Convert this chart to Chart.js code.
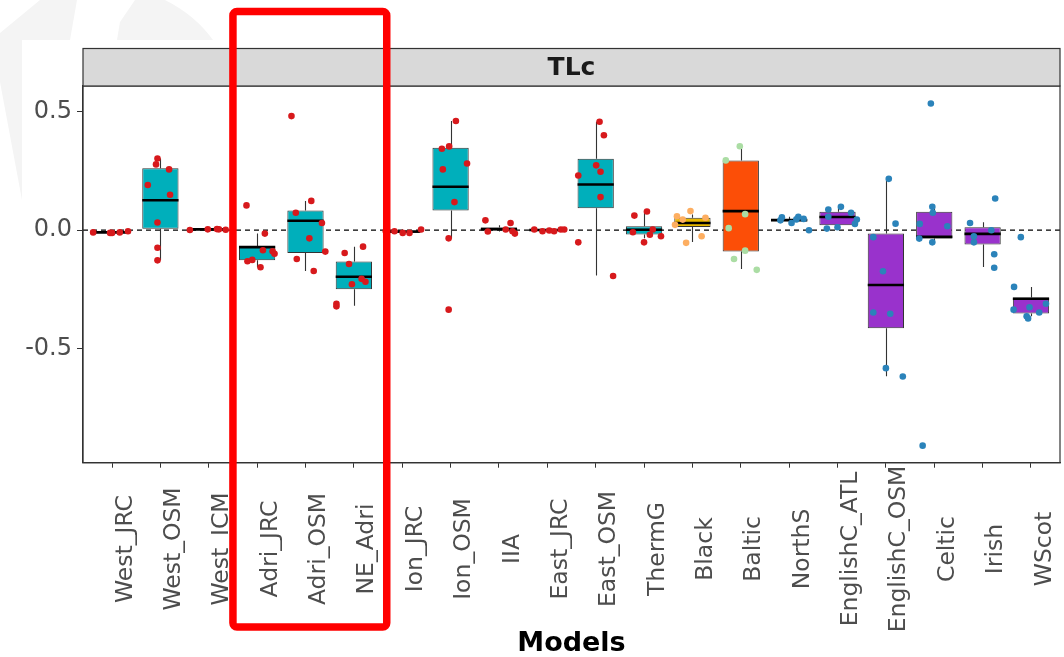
<!DOCTYPE html>
<html>
<head>
<meta charset="utf-8">
<script src="https://cdn.jsdelivr.net/npm/chart.js@4.4.1/dist/chart.umd.min.js"></script>
<style>
  html, body { margin: 0; padding: 0; background: #fff; }
  #wrap { width: 1064px; height: 657px; position: relative; }
</style>
</head>
<body>
<div id="wrap"><canvas id="chart"></canvas></div>
<script>
const categories = ["West_JRC", "West_OSM", "West_ICM", "Adri_JRC", "Adri_OSM", "NE_Adri", "Ion_JRC", "Ion_OSM",
  "IIA", "East_JRC", "East_OSM", "ThermG", "Black", "Baltic", "NorthS", "EnglishC_ATL", "EnglishC_OSM",
  "Celtic", "Irish", "WScot"];

// box stats
const boxLow = [-0.012, 0.005, 0.001, -0.128, -0.097, -0.25, -0.012, 0.082, -0.002, -0.004, 0.092, -0.019,
  0.013, -0.091, 0.037, 0.02, -0.414, -0.036, -0.061, -0.352];
const median = [-0.01, 0.126, 0.003, -0.072, 0.039, -0.197, -0.006, 0.183, 0.004, 0.0, 0.192, 0.001,
  0.03, 0.08, 0.042, 0.055, -0.232, -0.029, -0.016, -0.29];
const boxHigh = [-0.007, 0.261, 0.003, -0.071, 0.082, -0.133, -0.005, 0.347, 0.011, 0.002, 0.301, 0.016,
  0.052, 0.294, 0.047, 0.077, -0.015, 0.077, 0.012, -0.285];
const whiskerLow = [-0.012, -0.128, 0.0, -0.157, -0.173, -0.32, -0.012, -0.035, -0.006, -0.005, -0.192, -0.035,
  -0.05, -0.164, 0.03, 0.006, -0.617, -0.052, -0.156, -0.364];
const whiskerHigh = [-0.005, 0.302, 0.004, -0.015, 0.123, -0.07, 0.002, 0.46, 0.02, 0.002, 0.457, 0.075,
  0.066, 0.35, 0.056, 0.098, 0.216, 0.098, 0.033, -0.24];

// jittered observations per model
const pointValues = [
  [-0.01, -0.012, -0.012, -0.01, -0.005],
  [0.302, 0.277, 0.256, 0.19, 0.149, 0.032, -0.075, -0.128],
  [0.0, 0.003, 0.004, 0.003, 0.001],
  [0.104, -0.015, -0.085, -0.09, -0.1, -0.132, -0.126, -0.157],
  [0.481, 0.123, 0.073, 0.03, -0.035, -0.091, -0.122, -0.173],
  [-0.07, -0.097, -0.143, -0.206, -0.218, -0.229, -0.311, -0.322],
  [-0.005, -0.005, -0.012, -0.012, 0.002],
  [0.46, 0.343, 0.353, 0.281, 0.256, 0.118, -0.035, -0.336],
  [0.041, 0.03, -0.006, 0.002, -0.005, -0.015],
  [0.002, -0.005, -0.002, -0.005, 0.002, 0.002],
  [0.457, 0.4, 0.273, 0.246, 0.23, 0.139, -0.052, -0.194],
  [0.061, 0.078, -0.009, 0.002, -0.02, -0.026, -0.052],
  [0.08, 0.058, 0.044, 0.052, 0.022, -0.026, -0.054],
  [0.354, 0.294, 0.067, 0.008, -0.087, -0.122, -0.168],
  [0.054, 0.041, 0.03, 0.056, 0.047, 0.045, -0.001],
  [0.098, 0.087, 0.073, 0.056, 0.044, 0.026, 0.006, 0.012],
  [0.216, 0.027, -0.03, -0.174, -0.348, -0.353, -0.583, -0.618],
  [0.534, 0.098, 0.073, 0.026, 0.016, -0.036, -0.052, -0.91],
  [0.133, 0.03, -0.001, -0.026, -0.052, -0.102, -0.159],
  [-0.03, -0.24, -0.336, -0.326, -0.348, -0.311, -0.364, -0.373]
];
const pointJitter = [
  [-0.39, -0.04, 0, 0.16, 0.33],
  [-0.06, -0.09, 0.18, -0.26, 0.2, -0.06, -0.06, -0.06],
  [-0.39, -0.02, 0.17, 0.21, 0.35],
  [-0.22, 0.16, 0.12, 0.32, 0.36, -0.2, -0.1, 0.07],
  [-0.29, 0.12, -0.2, 0.34, 0.08, 0.41, -0.18, 0.17],
  [0.19, -0.19, -0.1, 0.16, 0.24, -0.04, -0.36, -0.36],
  [-0.34, -0.16, 0.01, 0.15, 0.39],
  [0.11, -0.18, -0.03, 0.34, -0.16, 0.08, -0.04, -0.04],
  [-0.28, 0.24, -0.23, 0.14, 0.28, 0.33],
  [-0.27, -0.1, 0.04, 0.14, 0.28, 0.35],
  [0.08, 0.17, 0.01, 0.1, -0.36, 0.1, -0.36, 0.36],
  [-0.2, 0.06, -0.23, 0.18, 0.12, 0.35, 0],
  [-0.04, -0.32, -0.2, 0.27, -0.36, 0.19, -0.13],
  [-0.02, -0.31, 0.09, -0.25, 0.09, -0.14, 0.33],
  [-0.15, -0.18, 0.05, 0.19, 0.3, 0.15, 0.41],
  [0.07, -0.19, 0.28, -0.19, 0.4, 0.36, -0.22, 0],
  [0.06, 0.2, -0.26, -0.06, -0.26, 0.09, 0, 0.35],
  [-0.07, -0.04, -0.03, -0.3, 0.27, -0.31, -0.04, -0.24],
  [0.26, -0.26, 0.18, -0.18, -0.18, 0.24, 0.24],
  [-0.21, -0.35, -0.36, -0.03, 0.17, 0.31, -0.09, -0.06]
];

const yTicks = [-0.5, 0, 0.5];

const TEAL = "#00AFBB", GOLD = "#E7B800", ORANGE = "#FC4E07", PURPLE = "#9932CC";
const RED = "#D7191C", LORANGE = "#FDAE61", LGREEN = "#ABDDA4", BLUE = "#2B83BA";
const boxColors = categories.map((_, i) => i < 12 ? TEAL : i === 12 ? GOLD : i === 13 ? ORANGE : PURPLE);
const dotColors = categories.map((_, i) => i < 12 ? RED : i === 12 ? LORANGE : i === 13 ? LGREEN : BLUE);

const points = [], pointCols = [];
pointValues.forEach((vals, i) => {
  vals.forEach((v, k) => {
    points.push({ x: i + pointJitter[i][k], y: v });
    pointCols.push(dotColors[i]);
  });
});

const BOX_DS = 1;

const decor = {
  id: "decor",
  beforeDraw(chart) {
    // faint watermark behind the figure
    const c = chart.ctx;
    c.save();
    c.fillStyle = "#f4f4f4";
    c.beginPath();
    c.moveTo(40, 0); c.lineTo(77, 0); c.lineTo(70, 40); c.lineTo(22, 40); c.lineTo(22, 200);
    c.lineTo(0, 82); c.lineTo(0, 33);
    c.closePath(); c.fill();
    c.beginPath();
    c.moveTo(135, 0); c.lineTo(165, 0); c.quadraticCurveTo(195, 15, 213, 40); c.lineTo(117, 40);
    c.lineTo(120, 22);
    c.closePath(); c.fill();
    c.restore();
  },
  beforeDatasetDraw(chart, args) {
    if (args.index !== BOX_DS) return;
    const c = chart.ctx, xs = chart.scales.x, ys = chart.scales.y;
    c.save();
    c.strokeStyle = "#333333";
    c.lineWidth = 1.1;
    c.beginPath();
    categories.forEach((_, i) => {
      const px = Math.round(xs.getPixelForValue(i)) + 0.5;
      c.moveTo(px, ys.getPixelForValue(boxHigh[i])); c.lineTo(px, ys.getPixelForValue(whiskerHigh[i]));
      c.moveTo(px, ys.getPixelForValue(boxLow[i])); c.lineTo(px, ys.getPixelForValue(whiskerLow[i]));
    });
    c.stroke();
    c.restore();
  },
  afterDatasetDraw(chart, args) {
    if (args.index !== BOX_DS) return;
    const c = chart.ctx, ys = chart.scales.y;
    c.save();
    c.strokeStyle = "#000";
    c.lineWidth = 2.6;
    c.beginPath();
    args.meta.data.forEach((bar, i) => {
      const py = ys.getPixelForValue(median[i]);
      c.moveTo(bar.x - bar.width / 2, py); c.lineTo(bar.x + bar.width / 2, py);
    });
    c.stroke();
    c.restore();
  },
  afterDraw(chart) {
    const c = chart.ctx, a = chart.chartArea, xs = chart.scales.x;
    c.save();
    // panel border
    c.strokeStyle = "#333333";
    c.lineWidth = 1.2;
    c.strokeRect(a.left, a.top, a.right - a.left, a.bottom - a.top);
    // facet strip
    c.fillStyle = "#D9D9D9";
    c.fillRect(a.left, 48.5, a.right - a.left, a.top - 48.5);
    c.strokeRect(a.left, 48.5, a.right - a.left, a.top - 48.5);
    c.fillStyle = "#1A1A1A";
    c.font = 'bold 25px "DejaVu Sans"';
    c.textAlign = "center";
    c.textBaseline = "middle";
    c.fillText("TLc", (a.left + a.right) / 2, 68);
    // rotated category labels, centred vertically like ggplot
    c.fillStyle = "#4D4D4D";
    c.font = '23.5px "DejaVu Sans"';
    c.textBaseline = "alphabetic";
    categories.forEach((lab, i) => {
      c.save();
      c.translate(xs.getPixelForValue(i) + 19.6, 549);
      c.rotate(-Math.PI / 2);
      c.fillText(lab, 0, 0);
      c.restore();
    });
    // red highlight box
    c.strokeStyle = "#FF0000";
    c.lineWidth = 7.5;
    const x0 = xs.getPixelForValue(2.5), x1 = xs.getPixelForValue(5.68);
    c.beginPath();
    c.roundRect(x0, 11.5, x1 - x0, 627 - 11.5, 4);
    c.stroke();
    c.restore();
  }
};

const ctx = document.getElementById("chart").getContext("2d");
new Chart(ctx, {
  type: "scatter",
  data: {
    datasets: [
      {
        type: "line",
        data: [{ x: -0.6, y: 0 }, { x: 19.6, y: 0 }],
        borderColor: "#000",
        borderWidth: 1.2,
        borderDash: [5, 4],
        pointRadius: 0,
        order: 3
      },
      {
        type: "bar",
        data: categories.map((_, i) => ({ x: i, y: [boxLow[i], boxHigh[i]] })),
        backgroundColor: boxColors,
        borderColor: "#333333",
        borderWidth: 1,
        borderSkipped: false,
        barPercentage: 0.75,
        categoryPercentage: 1,
        order: 2
      },
      {
        type: "scatter",
        data: points,
        pointBackgroundColor: pointCols,
        pointBorderWidth: 0,
        pointRadius: 3.3,
        order: 1
      }
    ]
  },
  options: {
    responsive: true,
    maintainAspectRatio: false,
    devicePixelRatio: 1,
    animation: false,
    layout: { padding: { top: 86, right: 2, left: 0, bottom: 0 } },
    plugins: { legend: { display: false }, tooltip: { enabled: false } },
    scales: {
      x: {
        type: "linear",
        min: -0.6,
        max: 19.6,
        offset: false,
        afterBuildTicks: s => { s.ticks = categories.map((_, i) => ({ value: i })); },
        afterFit: s => { s.height = 194.3; },
        ticks: { display: false },
        grid: { display: true, drawOnChartArea: false, drawTicks: true, tickLength: 5, color: "#333333", offset: false },
        border: { display: true, color: "#333333", width: 1.2 },
        title: {
          display: true,
          text: "Models",
          color: "#000",
          font: { family: "DejaVu Sans", size: 27, weight: "bold", lineHeight: 1 },
          padding: { top: 0, bottom: 0 }
        }
      },
      y: {
        type: "linear",
        min: -0.982,
        max: 0.608,
        afterBuildTicks: s => { s.ticks = yTicks.map(v => ({ value: v })); },
        afterFit: s => { s.width = 83; },
        ticks: {
          color: "#4D4D4D",
          font: { family: "DejaVu Sans", size: 24 },
          padding: 5,
          callback: v => v.toFixed(1)
        },
        grid: { display: true, drawOnChartArea: false, drawTicks: true, tickLength: 6, color: "#333333" },
        border: { display: true, color: "#333333", width: 1.2 }
      }
    }
  },
  plugins: [decor]
});
</script>
</body>
</html>
